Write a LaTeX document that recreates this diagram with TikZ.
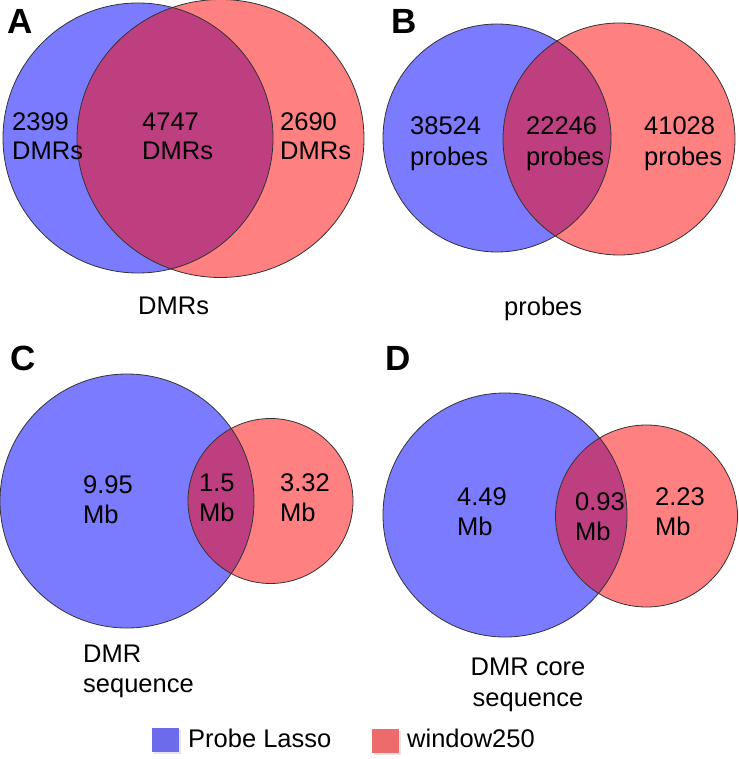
\documentclass[tikz,border=0pt]{standalone}
\usepackage{fontspec}
\setmainfont{Liberation Sans}
\definecolor{pblue}{HTML}{7B7BFF}
\definecolor{pred}{HTML}{FF8080}
\definecolor{plens}{HTML}{BD3F80}
\definecolor{lblue}{HTML}{6B6BEB}
\definecolor{lred}{HTML}{EE6B6B}
\tikzset{
  venn/.style={draw=black!80, line width=0.8pt},
  lbl/.style={inner sep=0pt, font=\fontsize{25.5}{30}\selectfont},
  lblw/.style={lbl, anchor=base west},
  lblc/.style={lbl, anchor=base},
  panel/.style={inner sep=0pt, anchor=base west, font=\fontsize{35}{38}\selectfont\bfseries},
  legbox/.style={inner sep=0pt, minimum width=27pt, minimum height=24pt, draw=none},
}
\begin{document}
\begin{tikzpicture}[x=1pt,y=-1pt]
\useasboundingbox (0,0) rectangle (738,759);
% ---------- Panel A ----------
\fill[pblue] (138,138) circle[radius=135pt];
\fill[pred] (220.5,138.5) circle[x radius=143.5pt, y radius=139pt];
\begin{scope}
  \clip (138,138) circle[radius=135pt];
  \fill[plens] (220.5,138.5) circle[x radius=143.5pt, y radius=139pt];
\end{scope}
\draw[venn] (138,138) circle[radius=135pt];
\draw[venn] (220.5,138.5) circle[x radius=143.5pt, y radius=139pt];
\node[panel] (pA) at (7,34) {A};
\node[lblw] (a1a) at (12,131) {2399};
\node[lblw] (a1b) at (12,160) {DMRs};
\node[lblw] (a2a) at (142,131) {4747};
\node[lblw] (a2b) at (142,160) {DMRs};
\node[lblw] (a3a) at (280,131) {2690};
\node[lblw] (a3b) at (280,160) {DMRs};
\node[lblw] (aL) at (138,314) {DMRs};
% ---------- Panel B ----------
\fill[pblue] (497,138) circle[radius=114pt];
\fill[pred] (619,139) circle[radius=116pt];
\begin{scope}
  \clip (497,138) circle[radius=114pt];
  \fill[plens] (619,139) circle[radius=116pt];
\end{scope}
\draw[venn] (497,138) circle[radius=114pt];
\draw[venn] (619,139) circle[radius=116pt];
\node[panel] (pB) at (391,34) {B};
\node[lblw] (b1a) at (410,135) {38524};
\node[lblw] (b1b) at (410,166) {probes};
\node[lblw] (b2a) at (526,135) {22246};
\node[lblw] (b2b) at (526,166) {probes};
\node[lblw] (b3a) at (644,135) {41028};
\node[lblw] (b3b) at (644,166) {probes};
\node[lblw] (bL) at (504,315) {probes};
% ---------- Panel C ----------
\fill[pblue] (127,501) circle[radius=127pt];
\fill[pred] (270.5,501) circle[radius=82.5pt];
\begin{scope}
  \clip (127,501) circle[radius=127pt];
  \fill[plens] (270.5,501) circle[radius=82.5pt];
\end{scope}
\draw[venn] (127,501) circle[radius=127pt];
\draw[venn] (270.5,501) circle[radius=82.5pt];
\node[panel] (pC) at (10,370) {C};
\node[lblw] (c1a) at (83,493) {9.95};
\node[lblw] (c1b) at (83,523) {Mb};
\node[lblw] (c2a) at (199,491) {1.5};
\node[lblw] (c2b) at (199,521) {Mb};
\node[lblw] (c3a) at (280,491) {3.32};
\node[lblw] (c3b) at (280,521) {Mb};
\node[lblw] (cLa) at (83,662) {DMR};
\node[lblw] (cLb) at (83,692) {sequence};
% ---------- Panel D ----------
\fill[pblue] (505,515) circle[radius=122pt];
\fill[pred] (646.5,516) circle[radius=91pt];
\begin{scope}
  \clip (505,515) circle[radius=122pt];
  \fill[plens] (646.5,516) circle[radius=91pt];
\end{scope}
\draw[venn] (505,515) circle[radius=122pt];
\draw[venn] (646.5,516) circle[radius=91pt];
\node[panel] (pD) at (385,370) {D};
\node[lblw] (d1a) at (457,505) {4.49};
\node[lblw] (d1b) at (457,535) {Mb};
\node[lblw] (d2a) at (575,510) {0.93};
\node[lblw] (d2b) at (575,540) {Mb};
\node[lblw] (d3a) at (655,505) {2.23};
\node[lblw] (d3b) at (655,535) {Mb};
\node[lblc] (dLa) at (528,675) {DMR core};
\node[lblc] (dLb) at (528,706) {sequence};
% ---------- Legend ----------
\fill[black!10] (153.5,729.5) rectangle (180.5,753.5);
\node[legbox, fill=lblue] (kb) at (165.5,740) {};
\node[lblw] (kbt) at (188,747) {Probe Lasso};
\fill[black!10] (373.5,730.5) rectangle (400.5,754.5);
\node[legbox, fill=lred] (kr) at (385.5,740.5) {};
\node[lblw] (krt) at (407,747) {window250};
\end{tikzpicture}
\end{document}
